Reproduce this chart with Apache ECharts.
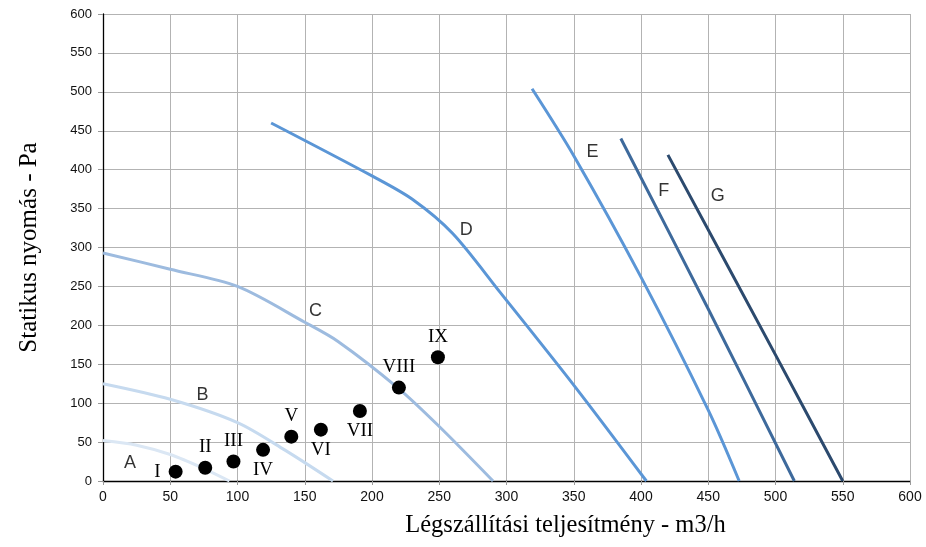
<!DOCTYPE html>
<html>
<head>
<meta charset="utf-8">
<script src="https://cdn.jsdelivr.net/npm/echarts@6/dist/echarts.min.js"></script>
<style>html,body{margin:0;padding:0;background:#fff;}#c{width:926px;height:547px;}</style>
</head>
<body>
<div id="c"></div>
<script>
// Fan curves: [airflow m3/h, static pressure Pa]
const curveA = [[0,52],[25,46],[50,34],[75,16],[94,0]];
const curveB = [[0,125],[50,105],[100,75],[135,40],[171,0]];
const curveC = [[0,293],[50,272],[100,250],[150,204],[175,179],[219,120],[250,70],[290,0]];
const curveD = [[125,460],[200,392],[230,362],[260,318],[295,243],[351,121],[404,0]];
const curveE = [[319,504],[350,418],[400,262],[450,91],[473,0]];
const curveF = [[385,440],[450,221],[514,0]];
const curveG = [[420,419],[500,162],[550,0]];
const curveNames = ['A','B','C','D','E','F','G'];
const curveColors = ['#dbe7f4','#c6daef','#9dbbdf','#5b96d6','#5b96d6','#3e6a9c','#2c4a6e'];
const curveLabelPos = [[20,23],[74,111],[158,218],[270,323],[364,423],[417,373],[457,366]];

// Operating points
const pointNames = ['I','II','III','IV','V','VI','VII','VIII','IX'];
const pointX = [54,76,97,119,140,162,191,220,249];
const pointY = [12,17,25,40,57,66,90,120,159];
const pointLabelPos = ['left','top','top','bottom','top','bottom','bottom','top','top'];

const xTicks = {min:0,max:600,interval:50};
const yTicks = {min:0,max:600,interval:50};

const curves = [curveA,curveB,curveC,curveD,curveE,curveF,curveG];
const series = curves.map((d,i)=>({
  type:'line', data:d, smooth:0.3, showSymbol:false, symbol:'none',
  lineStyle:{color:curveColors[i], width:3}, z:2, silent:true
}));
series.push({
  type:'scatter', symbolSize:0,
  data: curveLabelPos.map((p,i)=>({value:p, name:curveNames[i]})),
  label:{show:true, position:'inside', formatter:'{b}', color:'#000',
    fontFamily:'Liberation Sans, Arial, sans-serif', fontSize:18},
  z:5, silent:true
});
series.push({
  type:'scatter', symbol:'circle', symbolSize:14,
  itemStyle:{color:'#000', opacity:1},
  data: pointX.map((x,i)=>({value:[x,pointY[i]], name:pointNames[i],
    label:{position:pointLabelPos[i], distance: pointLabelPos[i]==='left'?8:4}})),
  label:{show:true, formatter:'{b}', color:'#000',
    fontFamily:'Liberation Serif, Times New Roman, serif', fontSize:19},
  z:6, silent:true
});

const chart = echarts.init(document.getElementById('c'), null, {renderer:'canvas'});
chart.setOption({
  animation:false,
  backgroundColor:'#fff',
  grid:{left:103, right:16, top:14, bottom:66, containLabel:false},
  xAxis:{
    type:'value', min:xTicks.min, max:xTicks.max, interval:xTicks.interval,
    name:'Légszállítási teljesítmény - m3/h', nameLocation:'middle', nameGap:32,
    nameTextStyle:{fontFamily:'Liberation Serif, Times New Roman, serif', fontSize:24.5, color:'#000', padding:[0,0,0,118]},
    axisLine:{show:true, lineStyle:{color:'#000', width:1.3}},
    axisTick:{show:true, length:4, lineStyle:{color:'#999'}},
    axisLabel:{fontFamily:'Liberation Sans, Arial, sans-serif', fontSize:14, color:'#111', margin:9},
    splitLine:{show:true, lineStyle:{color:'#b3b3b3', width:1}}
  },
  yAxis:{
    type:'value', min:yTicks.min, max:yTicks.max, interval:yTicks.interval,
    name:'Statikus nyomás - Pa', nameLocation:'middle', nameGap:61,
    nameTextStyle:{fontFamily:'Liberation Serif, Times New Roman, serif', fontSize:25, color:'#000'},
    axisLine:{show:true, lineStyle:{color:'#000', width:1.3}},
    axisTick:{show:true, length:5, lineStyle:{color:'#999'}},
    axisLabel:{fontFamily:'Liberation Sans, Arial, sans-serif', fontSize:13, color:'#111', margin:11},
    splitLine:{show:true, lineStyle:{color:'#b3b3b3', width:1}}
  },
  series:series
});
</script>
</body>
</html>
